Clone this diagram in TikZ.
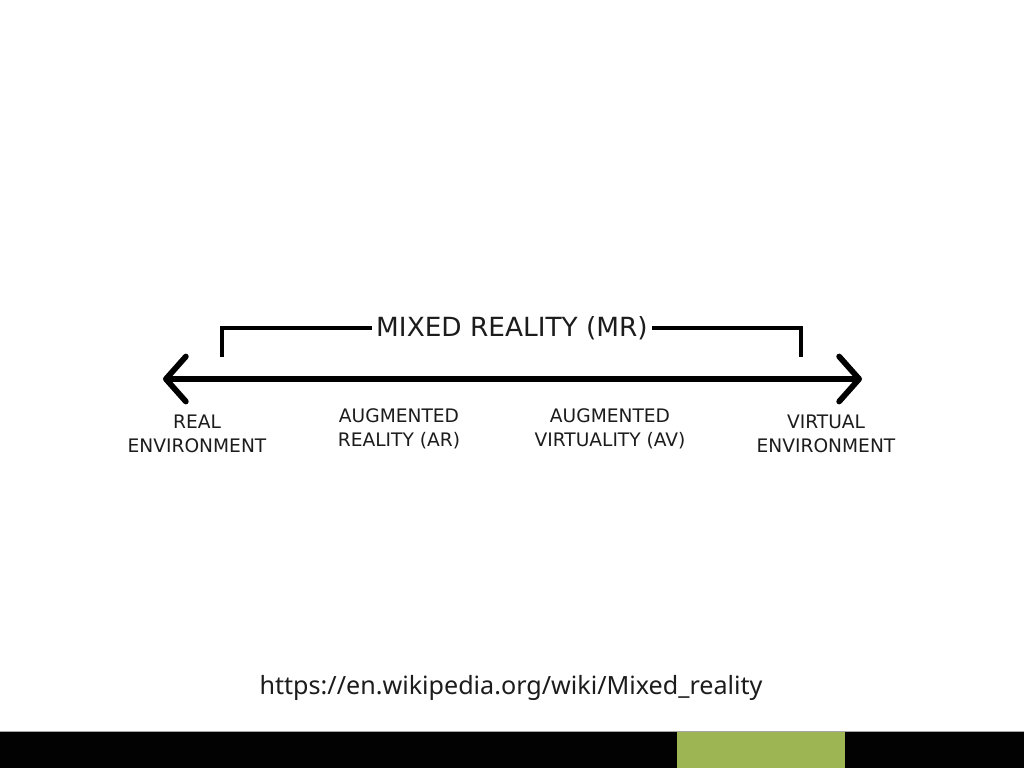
\documentclass[tikz,border=0pt]{standalone}
\usepackage{fontspec}
\setmainfont{DejaVu Sans}
\newfontfamily\urlfont{Noto Sans}
\usepackage{tikz}
\usetikzlibrary{arrows.meta, positioning, calc}
\definecolor{barblack}{RGB}{2,2,2}
\definecolor{bargreen}{RGB}{157,181,82}
\definecolor{labelgray}{RGB}{28,28,28}

\begin{document}
\begin{tikzpicture}[
    x=0.02cm, y=-0.02cm,
    axis/.style={line width=0.115cm, line cap=round,
                 {Straight Barb[length=0.4cm, width=0.9cm, round]}-{Straight Barb[length=0.4cm, width=0.9cm, round]}},
    bracket/.style={line width=0.065cm, line join=miter},
    lbl/.style={font=\fontsize{10.6}{13.5}\selectfont, text=labelgray, align=center, inner sep=0pt},
    title/.style={font=\fontsize{15}{18}\selectfont, text=labelgray, inner sep=0pt},
]
    \useasboundingbox (0,0) rectangle (1024,768);
    \fill[white] (0,0) rectangle (1024,768);

    % continuum axis
    \coordinate (lend) at (163,379);
    \coordinate (rend) at (862,379);
    \draw[axis] (lend) -- (rend);

    % mixed reality bracket
    \node[title] (mr) at (512,328) {MIXED REALITY (MR)};
    \coordinate (mrl) at (222,357);
    \coordinate (mrr) at (801,357);
    \draw[bracket] (mr.west) ++(-4,0) -| (mrl);
    \draw[bracket] (mr.east) ++(4,0) -| (mrr);

    % stages along the axis
    \node[lbl] (re) at (197,434) {REAL\\ENVIRONMENT};
    \node[lbl] (ar) at (399,429) {AUGMENTED\\REALITY (AR)};
    \node[lbl] (av) at (610,429) {AUGMENTED\\VIRTUALITY (AV)};
    \node[lbl] (ve) at (826,434) {VIRTUAL\\ENVIRONMENT};

    % source
    \node[font=\urlfont\fontsize{14.3}{16}\selectfont, text=labelgray] (src) at (511,688)
        {https://en.wikipedia.org/wiki/Mixed\_reality};

    % footer bar
    \fill[barblack] (0,731) rectangle (1024,768);
    \fill[bargreen] (677,731) rectangle (845,768);
    \draw[gray!70, line width=0.02cm] (0,731) -- (1024,731);
\end{tikzpicture}
\end{document}
